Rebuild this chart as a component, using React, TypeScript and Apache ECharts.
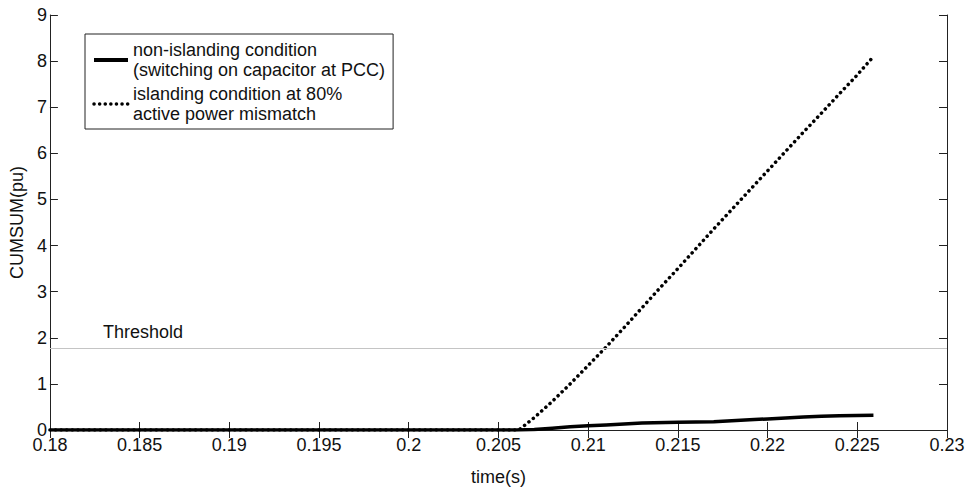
import React, { useEffect, useRef } from "react";
import * as echarts from "echarts";

const seriesNames = [
  "non-islanding condition\n(switching on capacitor at PCC)",
  "islanding condition at 80%\nactive power mismatch",
];

const timeNonIsland = [0.18, 0.2, 0.206, 0.207, 0.208, 0.209, 0.21, 0.211, 0.212, 0.213, 0.215, 0.217, 0.218, 0.219, 0.22, 0.221, 0.222, 0.223, 0.224, 0.2259];
const cusumNonIsland = [0, 0, 0, 0.01, 0.04, 0.07, 0.09, 0.11, 0.13, 0.15, 0.17, 0.18, 0.2, 0.22, 0.24, 0.26, 0.28, 0.3, 0.31, 0.32];

const timeIsland = [0.18, 0.206, 0.2062, 0.207, 0.208, 0.209, 0.21, 0.211, 0.212, 0.213, 0.214, 0.215, 0.216, 0.217, 0.218, 0.219, 0.22, 0.221, 0.222, 0.223, 0.224, 0.225, 0.2259];
const cusumIsland = [0, 0, 0.02, 0.27, 0.62, 1.0, 1.4, 1.8, 2.22, 2.65, 3.08, 3.5, 3.93, 4.36, 4.78, 5.2, 5.62, 6.04, 6.46, 6.87, 7.29, 7.7, 8.1];

const thresholdValue = 1.77;
const thresholdLabel = "Threshold";

const xMin = 0.18;
const xMax = 0.23;
const xStep = 0.005;
const yMin = 0;
const yMax = 9;
const yStep = 1;

const FONT = "'Liberation Sans', Arial, Helvetica, sans-serif";

export default function App() {
  const ref = useRef<HTMLDivElement>(null);

  useEffect(() => {
    if (!ref.current) return;
    const chart = echarts.init(ref.current, undefined, { renderer: "svg" });
    const fmt = (v: number) => String(Number(v.toFixed(3)));
    const axisLine = { show: true, lineStyle: { color: "#222", width: 1 } };
    const tick = { show: true, inside: true, length: 8, lineStyle: { color: "#222", width: 1 } };
    const labelStyle = { color: "#111", fontSize: 18, fontFamily: FONT };
    const dotted = { color: "#000", width: 3.5, type: [0.1, 5.5], cap: "round" };

    chart.setOption({
      animation: false,
      backgroundColor: "#ffffff",
      color: ["#000", "#000"],
      grid: { left: 48, right: 23, top: 15, bottom: 58, containLabel: false },
      legend: {
        show: true,
        orient: "vertical",
        left: 85,
        top: 34,
        padding: [6, 8, 5, 7],
        itemGap: 4,
        itemWidth: 34,
        itemHeight: 14,
        selectedMode: false,
        borderColor: "#222",
        borderWidth: 1,
        backgroundColor: "#fff",
        textStyle: { color: "#111", fontSize: 18, fontFamily: FONT, lineHeight: 20 },
        data: [
          {
            name: seriesNames[0],
            itemStyle: { color: "rgba(0,0,0,0)", borderWidth: 0 },
            lineStyle: { color: "#000", width: 4, type: "solid" },
          },
          {
            name: seriesNames[1],
            itemStyle: { color: "rgba(0,0,0,0)", borderWidth: 0 },
            lineStyle: dotted,
          },
        ],
      },
      xAxis: [
        {
          type: "value",
          min: xMin,
          max: xMax,
          interval: xStep,
          position: "bottom",
          name: "time(s)",
          nameLocation: "middle",
          nameGap: 38,
          nameTextStyle: { color: "#111", fontSize: 18, fontFamily: FONT },
          axisLine,
          axisTick: tick,
          axisLabel: { ...labelStyle, margin: 6, formatter: fmt },
          splitLine: { show: false },
        },
        {
          type: "value",
          min: xMin,
          max: xMax,
          interval: xStep,
          position: "top",
          axisLine,
          axisTick: tick,
          axisLabel: { show: false },
          splitLine: { show: false },
        },
      ],
      yAxis: [
        {
          type: "value",
          min: yMin,
          max: yMax,
          interval: yStep,
          position: "left",
          name: "CUMSUM(pu)",
          nameLocation: "middle",
          nameGap: 22,
          nameTextStyle: { color: "#111", fontSize: 18, fontFamily: FONT },
          axisLine,
          axisTick: tick,
          axisLabel: { ...labelStyle, margin: 3 },
          splitLine: { show: false },
        },
        {
          type: "value",
          min: yMin,
          max: yMax,
          interval: yStep,
          position: "right",
          axisLine,
          axisTick: tick,
          axisLabel: { show: false },
          splitLine: { show: false },
        },
      ],
      graphic: [
        {
          type: "text",
          left: 103,
          top: 323,
          style: { text: thresholdLabel, fill: "#111", font: `18px ${FONT}` },
        },
      ],
      series: [
        {
          name: seriesNames[0],
          type: "line",
          xAxisIndex: 0,
          yAxisIndex: 0,
          symbol: "none",
          showSymbol: false,
          smooth: false,
          z: 3,
          itemStyle: { color: "#000" },
          lineStyle: { color: "#000", width: 3.5 },
          data: timeNonIsland.map((t, i) => [t, cusumNonIsland[i]]),
          markLine: {
            silent: true,
            symbol: "none",
            label: { show: false },
            lineStyle: { color: "#c4c4c4", width: 1, type: "solid" },
            data: [{ yAxis: thresholdValue }],
          },
        },
        {
          name: seriesNames[1],
          type: "line",
          xAxisIndex: 0,
          yAxisIndex: 0,
          symbol: "none",
          showSymbol: false,
          smooth: false,
          z: 4,
          itemStyle: { color: "#000" },
          lineStyle: dotted,
          data: timeIsland.map((t, i) => [t, cusumIsland[i]]),
        },
      ],
    });
    return () => chart.dispose();
  }, []);

  return (
    <div
      ref={ref}
      style={{ position: "fixed", left: 0, top: 0, width: 970, height: 491, background: "#fff" }}
    />
  );
}
